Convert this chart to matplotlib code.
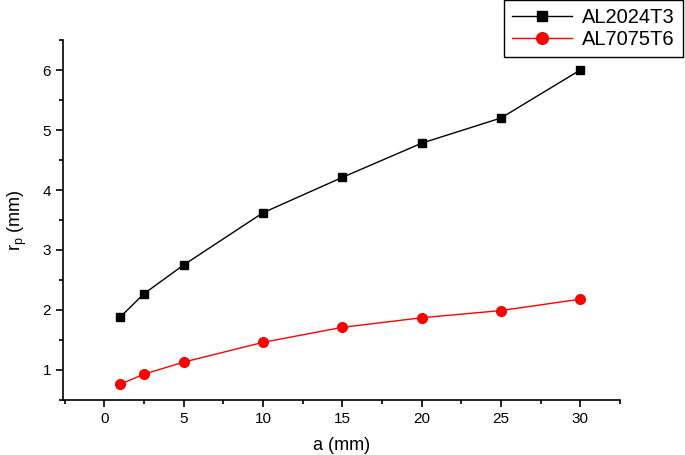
import matplotlib.pyplot as plt
from matplotlib.ticker import MultipleLocator

plt.rcParams['font.family'] = ['Liberation Sans', 'DejaVu Sans']

a_mm = [1, 2.5, 5, 10, 15, 20, 25, 30]
rp_2024 = [1.88, 2.27, 2.75, 3.62, 4.21, 4.78, 5.20, 6.00]
rp_7075 = [0.76, 0.93, 1.13, 1.46, 1.71, 1.87, 1.99, 2.18]

fig = plt.figure(figsize=(6.85, 4.55), dpi=100)
ax = fig.add_axes([0.092, 0.121, 0.813, 0.791])

ax.plot(a_mm, rp_2024, color="black", marker="s", markersize=6, linewidth=1, label="AL2024T3")
ax.plot(a_mm, rp_7075, color="red", marker="o", markersize=7, linewidth=1, label="AL7075T6")

ax.set_xlim(-2.6, 32.5)
ax.set_ylim(0.5, 6.5)
ax.xaxis.set_major_locator(MultipleLocator(5))
ax.xaxis.set_minor_locator(MultipleLocator(2.5))
ax.yaxis.set_major_locator(MultipleLocator(1))
ax.yaxis.set_minor_locator(MultipleLocator(0.5))
ax.set_yticks([1, 2, 3, 4, 5, 6])

for s in ["top", "right"]:
    ax.spines[s].set_visible(False)
for s in ["left", "bottom"]:
    ax.spines[s].set_linewidth(1.2)
ax.tick_params(which="major", direction="out", length=5, width=1.2, labelsize=11)
ax.tick_params(which="minor", direction="out", length=3, width=1.2)

ax.set_xlabel("a (mm)", fontsize=13, labelpad=8)
ax.set_ylabel("r$_\\mathregular{p}$ (mm)", fontsize=13, labelpad=10)

fig.legend(loc="upper right", bbox_to_anchor=(0.997, 1.0), fontsize=14.5,
           frameon=True, fancybox=False, edgecolor="black", framealpha=1,
           borderpad=0.4, handlelength=3.0, handletextpad=0.5,
           labelspacing=0.15, borderaxespad=0, markerscale=1.2)

fig.savefig("out.png", dpi=100)
